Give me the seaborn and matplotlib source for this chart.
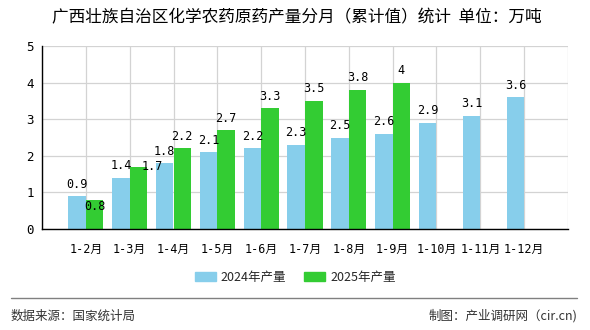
import numpy as np
import pandas as pd
import matplotlib
matplotlib.use("Agg")
import matplotlib.pyplot as plt
from matplotlib.lines import Line2D
import seaborn as sns

categories = ["1-2月", "1-3月", "1-4月", "1-5月", "1-6月", "1-7月", "1-8月", "1-9月", "1-10月", "1-11月", "1-12月"]
values_2024 = [0.9, 1.4, 1.8, 2.1, 2.2, 2.3, 2.5, 2.6, 2.9, 3.1, 3.6]
values_2025 = [0.8, 1.7, 2.2, 2.7, 3.3, 3.5, 3.8, 4.0, np.nan, np.nan, np.nan]
series_names = ["2024年产量", "2025年产量"]
yticks = [0, 1, 2, 3, 4, 5]
title = "广西壮族自治区化学农药原药产量分月（累计值）统计  单位：万吨"
source_text = "数据来源：国家统计局"
credit_text = "制图：产业调研网（cir.cn)"

df = pd.DataFrame({
    "月份": categories * 2,
    "产量": values_2024 + values_2025,
    "系列": [series_names[0]] * len(categories) + [series_names[1]] * len(categories),
})

sns.set_theme(style="white")
plt.rcParams["font.family"] = ["Noto Sans CJK SC", "DejaVu Sans"]
plt.rcParams["axes.unicode_minus"] = False

fig = plt.figure(figsize=(5.9, 3.3), dpi=100)
ax = fig.add_axes([42 / 590, 1 - 229 / 330, (568 - 42) / 590, (229 - 46) / 330])

colors = ["#87CEEB", "#33CC33"]
sns.barplot(data=df, x="月份", y="产量", hue="系列", order=categories,
            hue_order=series_names, palette=colors, width=0.8, ax=ax,
            saturation=1, legend=True, errorbar=None, linewidth=0, edgecolor="none")

ax.set_xlim(-1, len(categories))
ax.set_ylim(0, 5)
ax.set_yticks(yticks)
ax.set_yticklabels([str(t) for t in yticks])
xt = list(range(-1, len(categories) + 1))
ax.set_xticks(xt)
ax.set_xticklabels([""] + categories + [""], family=["DejaVu Sans Mono", "Noto Sans CJK SC"], fontsize=8.5)
for lbl in ax.get_yticklabels():
    lbl.set_family(["DejaVu Sans Mono"])
    lbl.set_fontsize(9)
ax.set_xlabel("")
ax.set_ylabel("")
ax.xaxis.grid(True, color="#d3d3d3", linewidth=0.9)
ax.yaxis.grid(True, color="#d3d3d3", linewidth=0.9)
ax.set_axisbelow(True)
for s in ["top", "right"]:
    ax.spines[s].set_visible(False)
for s in ["left", "bottom"]:
    ax.spines[s].set_color("black")
    ax.spines[s].set_linewidth(1.0)
ax.tick_params(axis="both", length=4, width=1, color="black", colors="black", pad=2, direction="out")
ax.tick_params(axis="x", pad=6)

# value labels (pixel offsets: style only)
special = {(1, 0): (0, -7), (1, 1): (14, 0)}
for si, cont in enumerate(ax.containers):
    bi = 0
    for bar in cont:
        h = bar.get_height()
        if h is None or np.isnan(h):
            continue
        dx, dy = special.get((si, bi), (0, 12))
        ax.annotate(f"{h:g}", (bar.get_x() + bar.get_width() / 2, h),
                    xytext=(dx * 0.72, dy * 0.72), textcoords="offset points",
                    ha="center", va="center", fontsize=8.5,
                    family=["DejaVu Sans Mono"], color="black")
        bi += 1

leg = ax.get_legend()
if leg is not None:
    leg.remove()
handles = [plt.Rectangle((0, 0), 1, 1, color=c) for c in colors]
fig.legend(handles, series_names, loc="center", bbox_to_anchor=(0.5, 1 - 277 / 330),
           ncol=2, frameon=False, fontsize=9, handlelength=1.7, handleheight=0.7,
           columnspacing=1.4, handletextpad=0.4)

fig.text(0.503, 1 - 18 / 330, title, ha="center", va="center", fontsize=12, color="black")
fig.add_artist(Line2D([11 / 590, 577 / 590], [1 - 298 / 330] * 2, color="#808080", linewidth=1))
fig.text(11 / 590, 1 - 316 / 330, source_text, ha="left", va="center", fontsize=9, color="#333333")
fig.text(577 / 590, 1 - 316 / 330, credit_text, ha="right", va="center", fontsize=9, color="#333333")

fig.savefig("out.png", dpi=100)
